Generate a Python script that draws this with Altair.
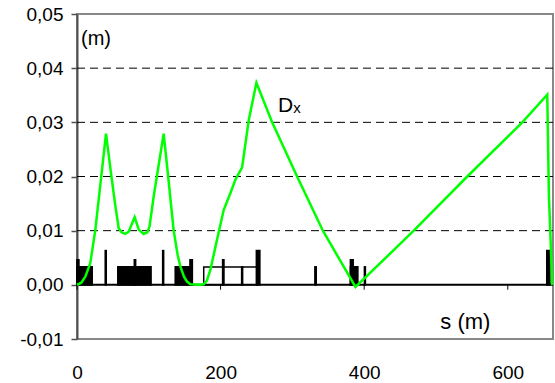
import altair as alt
import pandas as pd

# ---- Dispersion curve D_x(s) ----
s_vals = [0, 6, 11.6, 18.5, 25.5, 40.4, 47, 53, 58, 62, 67.3, 72, 80.3, 86, 92.8, 98, 101, 107,
          120.7, 127, 134.6, 140.2, 144, 149, 153.3, 158, 170, 176.4, 181, 185.8, 195, 204.3,
          213.6, 220.6, 230, 239.2, 249.9, 271.8, 306.6, 342.5, 387.9, 469.1, 543.6, 620.2,
          655, 657.3, 662]
dx_vals = [0, 0.0004, 0.0015, 0.004, 0.0101, 0.0279, 0.021, 0.015, 0.0105, 0.0097, 0.0094,
           0.0098, 0.0125, 0.0102, 0.0094, 0.0097, 0.0108, 0.0165, 0.0279, 0.02, 0.0101,
           0.0055, 0.0034, 0.0015, 0.0006, 0.0001, 0.0, 0.0001, 0.0008, 0.0028, 0.0083,
           0.0138, 0.0169, 0.0194, 0.0217, 0.0304, 0.0373, 0.03, 0.02, 0.01, -0.0004, 0.01,
           0.02, 0.03, 0.0351, 0.0165, 0.0]

# ---- Lattice elements ----
el_start = [0, 0, 39.5, 57, 80, 119.5, 137, 157.5, 203, 229.5, 250, 331.5, 381, 381, 400.5, 654.5]
el_end = [2.5, 21, 40.5, 103, 81.5, 120.5, 160, 160.5, 204.5, 230.5, 254.5, 333, 384.5, 391, 401.5, 658.5]
el_height = [0.0046, 0.0033, 0.0063, 0.0033, 0.0046, 0.0063, 0.0033, 0.0046, 0.0046, 0.0033,
             0.0063, 0.0033, 0.0046, 0.0033, 0.0033, 0.0063]
open_start = [176.5]
open_end = [251]
open_height = [0.0033]

# ---- Axes / grid ----
y_ticks = [-0.01, 0, 0.01, 0.02, 0.03, 0.04, 0.05]
grid_vals = [0.01, 0.02, 0.03, 0.04]
x_ticks = [0, 200, 400, 600]
S_MAX = 663

# ---- Annotations ----
ann_text = ["(m)", "s (m)", "D", "x"]
ann_s = [5.6, 506, 280, 301.3]
ann_d = [0.0443, -0.0081, 0.0319, 0.0317]
ann_size = [20, 22, 21, 15]

FONT = "Liberation Sans"

curve = pd.DataFrame({"s": s_vals, "D": dx_vals, "i": list(range(len(s_vals)))})
elements = pd.DataFrame({"s": el_start, "s1": el_end, "h": el_height, "D": [0] * len(el_start)})
opens = pd.DataFrame({"s": open_start, "s1": open_end, "h": open_height, "D": [0] * len(open_start)})
grid = pd.DataFrame({"D": grid_vals, "s": [0] * len(grid_vals), "s1": [S_MAX] * len(grid_vals)})
xt = pd.DataFrame({"s": x_ticks, "D": [0] * len(x_ticks), "e": [-0.0009] * len(x_ticks)})
baseline = pd.DataFrame({"s": [0], "s1": [S_MAX], "D": [0]})
ann = pd.DataFrame({"text": ann_text, "s": ann_s, "D": ann_d, "size": ann_size})

xs = alt.Scale(domain=[0, S_MAX], nice=False, zero=False)
ys = alt.Scale(domain=[-0.01, 0.05], nice=False, zero=False)

x_axis = alt.Axis(values=x_ticks, title=None, domain=False, ticks=False, grid=False,
                  labelFontSize=19, labelFont=FONT, labelColor="black", labelPadding=24,
                  labelFlush=False)
y_axis = alt.Axis(values=y_ticks, title=None, grid=False, domainColor="#505050", domainWidth=2,
                  tickColor="#505050", tickWidth=1.5, tickSize=6, labelFontSize=19,
                  labelFont=FONT, labelColor="black", labelPadding=8,
                  labelExpr="(datum.value < 0 ? '-' : '') + replace(format(abs(datum.value), '.2f'), '.', ',')")

X = alt.X("s:Q", scale=xs, axis=x_axis)
Y = alt.Y("D:Q", scale=ys, axis=y_axis)

grid_layer = alt.Chart(grid).mark_rule(color="black", strokeWidth=1, strokeDash=[8, 5]).encode(
    x=X, x2="s1:Q", y=Y,
)

rects = alt.Chart(elements).mark_rect(color="black", stroke="black", strokeWidth=1.8).encode(
    x=X, x2="s1:Q", y=Y, y2="h:Q",
)

open_rects = alt.Chart(opens).mark_rect(filled=False, stroke="black", strokeWidth=1.5).encode(
    x=X, x2="s1:Q", y=Y, y2="h:Q",
)

base_rule = alt.Chart(baseline).mark_rule(color="black", strokeWidth=2).encode(
    x=X, x2="s1:Q", y=Y,
)

tick_rules = alt.Chart(xt).mark_rule(color="black", strokeWidth=1).encode(
    x=X, y=Y, y2="e:Q",
)

line = alt.Chart(curve).mark_line(color="#00ff00", strokeWidth=2.5).encode(
    x=X, y=Y, order="i:Q",
)

texts = alt.Chart(ann).mark_text(align="left", baseline="alphabetic", font=FONT, color="black").encode(
    x=X, y=Y,
    text="text:N",
    size=alt.Size("size:Q", scale=None, legend=None),
)

chart = alt.layer(grid_layer, rects, open_rects, base_rule, tick_rules, line, texts).properties(
    width=476, height=325,
    padding={"left": 77, "top": 14, "right": 2, "bottom": 44},
    autosize="none",
    background="white",
).configure_view(stroke="#888888", strokeWidth=2)

chart.save("out.html", embed_options={"renderer": "svg", "actions": False})
